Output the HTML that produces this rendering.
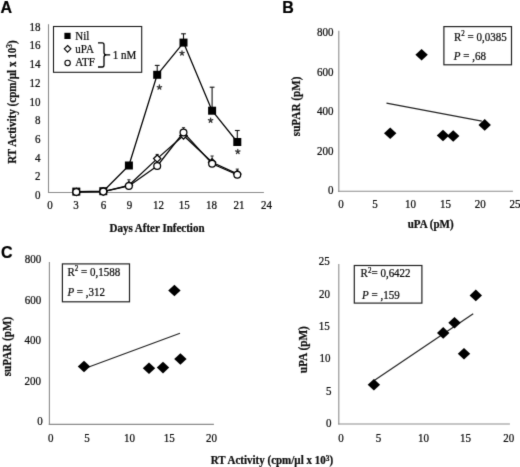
<!DOCTYPE html>
<html><head><meta charset="utf-8"><title>Figure</title>
<style>
html,body{margin:0;padding:0;background:#fff;}
body{width:520px;height:467px;overflow:hidden;font-family:"Liberation Serif", serif;}
svg{display:block;will-change:transform;}
text{stroke:#000;stroke-width:0.22px;}
</style></head>
<body>
<svg width="520" height="467" viewBox="0 0 520 467">
<defs><filter id="soft" color-interpolation-filters="sRGB" x="0" y="0" width="520" height="467" filterUnits="userSpaceOnUse"><feConvolveMatrix order="3" kernelMatrix="0.01134 0.08382 0.01134 0.08382 0.61935 0.08382 0.01134 0.08382 0.01134" edgeMode="duplicate"/></filter></defs>
<g filter="url(#soft)">
<rect x="0" y="0" width="520" height="467" fill="#fff"/>
<text transform="translate(0.60,12.70) scale(1,1.0)" font-size="16" text-anchor="start" font-weight="bold" font-style="normal" font-family='"Liberation Sans", sans-serif' fill="#000" >A</text>
<line x1="48.50" y1="24.20" x2="48.50" y2="193.00" stroke="#8c8c8c" stroke-width="1.1" />
<line x1="48.00" y1="192.50" x2="263.90" y2="192.50" stroke="#8c8c8c" stroke-width="1.1" />
<text transform="translate(40.60,198.90) scale(1,1.08)" font-size="11" text-anchor="end" font-weight="normal" font-style="normal" font-family='"Liberation Serif", serif' fill="#111" >0</text>
<text transform="translate(40.60,180.22) scale(1,1.08)" font-size="11" text-anchor="end" font-weight="normal" font-style="normal" font-family='"Liberation Serif", serif' fill="#111" >2</text>
<text transform="translate(40.60,161.54) scale(1,1.08)" font-size="11" text-anchor="end" font-weight="normal" font-style="normal" font-family='"Liberation Serif", serif' fill="#111" >4</text>
<text transform="translate(40.60,142.86) scale(1,1.08)" font-size="11" text-anchor="end" font-weight="normal" font-style="normal" font-family='"Liberation Serif", serif' fill="#111" >6</text>
<text transform="translate(40.60,124.18) scale(1,1.08)" font-size="11" text-anchor="end" font-weight="normal" font-style="normal" font-family='"Liberation Serif", serif' fill="#111" >8</text>
<text transform="translate(40.60,105.50) scale(1,1.08)" font-size="11" text-anchor="end" font-weight="normal" font-style="normal" font-family='"Liberation Serif", serif' fill="#111" >10</text>
<text transform="translate(40.60,86.82) scale(1,1.08)" font-size="11" text-anchor="end" font-weight="normal" font-style="normal" font-family='"Liberation Serif", serif' fill="#111" >12</text>
<text transform="translate(40.60,68.14) scale(1,1.08)" font-size="11" text-anchor="end" font-weight="normal" font-style="normal" font-family='"Liberation Serif", serif' fill="#111" >14</text>
<text transform="translate(40.60,49.46) scale(1,1.08)" font-size="11" text-anchor="end" font-weight="normal" font-style="normal" font-family='"Liberation Serif", serif' fill="#111" >16</text>
<text transform="translate(40.60,30.78) scale(1,1.08)" font-size="11" text-anchor="end" font-weight="normal" font-style="normal" font-family='"Liberation Serif", serif' fill="#111" >18</text>
<text transform="translate(50.00,208.80) scale(1,1.08)" font-size="11" text-anchor="middle" font-weight="normal" font-style="normal" font-family='"Liberation Serif", serif' fill="#111" >0</text>
<text transform="translate(75.90,208.80) scale(1,1.08)" font-size="11" text-anchor="middle" font-weight="normal" font-style="normal" font-family='"Liberation Serif", serif' fill="#111" >3</text>
<text transform="translate(103.50,208.80) scale(1,1.08)" font-size="11" text-anchor="middle" font-weight="normal" font-style="normal" font-family='"Liberation Serif", serif' fill="#111" >6</text>
<text transform="translate(129.50,208.80) scale(1,1.08)" font-size="11" text-anchor="middle" font-weight="normal" font-style="normal" font-family='"Liberation Serif", serif' fill="#111" >9</text>
<text transform="translate(158.50,208.80) scale(1,1.08)" font-size="11" text-anchor="middle" font-weight="normal" font-style="normal" font-family='"Liberation Serif", serif' fill="#111" >12</text>
<text transform="translate(184.30,208.80) scale(1,1.08)" font-size="11" text-anchor="middle" font-weight="normal" font-style="normal" font-family='"Liberation Serif", serif' fill="#111" >15</text>
<text transform="translate(211.60,208.80) scale(1,1.08)" font-size="11" text-anchor="middle" font-weight="normal" font-style="normal" font-family='"Liberation Serif", serif' fill="#111" >18</text>
<text transform="translate(238.90,208.80) scale(1,1.08)" font-size="11" text-anchor="middle" font-weight="normal" font-style="normal" font-family='"Liberation Serif", serif' fill="#111" >21</text>
<text transform="translate(266.50,208.80) scale(1,1.08)" font-size="11" text-anchor="middle" font-weight="normal" font-style="normal" font-family='"Liberation Serif", serif' fill="#111" >24</text>
<text transform="translate(157.00,232.30) scale(1,1.08)" font-size="11" text-anchor="middle" font-weight="bold" font-style="normal" font-family='"Liberation Serif", serif' fill="#111" >Days After Infection</text>
<text transform="translate(16.0,102.0) rotate(-90) scale(1,1.08)" font-size="11.1" text-anchor="middle" font-weight="bold" font-family='"Liberation Serif", serif' fill="#111">RT Activity (cpm/µl x 10<tspan dy="-3.5" font-size="7.5">3</tspan><tspan dy="3.5">)</tspan></text>
<polyline points="76.30,191.60 103.30,191.20 128.90,165.50 157.20,74.80 183.50,42.60 212.10,110.70 237.30,142.00" fill="none" stroke="#000" stroke-width="1.25" stroke-linejoin="round" shape-rendering="auto"/>
<line x1="157.20" y1="65.40" x2="157.20" y2="74.80" stroke="#111" stroke-width="1.1" />
<line x1="154.80" y1="65.40" x2="159.60" y2="65.40" stroke="#111" stroke-width="1.1" />
<line x1="183.50" y1="33.80" x2="183.50" y2="42.60" stroke="#111" stroke-width="1.1" />
<line x1="181.10" y1="33.80" x2="185.90" y2="33.80" stroke="#111" stroke-width="1.1" />
<line x1="212.10" y1="87.20" x2="212.10" y2="110.70" stroke="#111" stroke-width="1.1" />
<line x1="209.70" y1="87.20" x2="214.50" y2="87.20" stroke="#111" stroke-width="1.1" />
<line x1="237.30" y1="130.50" x2="237.30" y2="142.00" stroke="#111" stroke-width="1.1" />
<line x1="234.90" y1="130.50" x2="239.70" y2="130.50" stroke="#111" stroke-width="1.1" />
<rect x="72.30" y="187.60" width="8" height="8" fill="#000"/>
<rect x="99.30" y="187.20" width="8" height="8" fill="#000"/>
<rect x="124.90" y="161.50" width="8" height="8" fill="#000"/>
<rect x="153.20" y="70.80" width="8" height="8" fill="#000"/>
<rect x="179.50" y="38.60" width="8" height="8" fill="#000"/>
<rect x="208.10" y="106.70" width="8" height="8" fill="#000"/>
<rect x="233.30" y="138.00" width="8" height="8" fill="#000"/>
<path d="M159.40,87.30 L159.40,85.00 M159.40,87.30 L161.59,86.59 M159.40,87.30 L160.75,89.16 M159.40,87.30 L158.05,89.16 M159.40,87.30 L157.21,86.59 " stroke="#333" stroke-width="1.3" stroke-linecap="round" fill="none"/>
<path d="M182.00,53.20 L182.00,50.90 M182.00,53.20 L184.19,52.49 M182.00,53.20 L183.35,55.06 M182.00,53.20 L180.65,55.06 M182.00,53.20 L179.81,52.49 " stroke="#333" stroke-width="1.3" stroke-linecap="round" fill="none"/>
<path d="M210.60,120.40 L210.60,118.10 M210.60,120.40 L212.79,119.69 M210.60,120.40 L211.95,122.26 M210.60,120.40 L209.25,122.26 M210.60,120.40 L208.41,119.69 " stroke="#333" stroke-width="1.3" stroke-linecap="round" fill="none"/>
<path d="M237.80,151.70 L237.80,149.40 M237.80,151.70 L239.99,150.99 M237.80,151.70 L239.15,153.56 M237.80,151.70 L236.45,153.56 M237.80,151.70 L235.61,150.99 " stroke="#333" stroke-width="1.3" stroke-linecap="round" fill="none"/>
<polyline points="76.30,191.90 103.30,191.60 128.90,185.30 157.20,158.60 183.50,135.50 212.10,162.30 237.30,173.90" fill="none" stroke="#000" stroke-width="1.25" stroke-linejoin="round" shape-rendering="auto"/>
<polyline points="76.30,191.90 103.30,191.60 128.90,185.90 157.20,166.00 183.50,132.40 212.10,163.70 237.30,174.80" fill="none" stroke="#000" stroke-width="1.25" stroke-linejoin="round" shape-rendering="auto"/>
<line x1="127.30" y1="179.80" x2="130.50" y2="179.80" stroke="#222" stroke-width="1.0" />
<line x1="128.90" y1="179.80" x2="128.90" y2="182.80" stroke="#222" stroke-width="1.0" />
<line x1="155.60" y1="154.40" x2="158.80" y2="154.40" stroke="#222" stroke-width="1.0" />
<line x1="157.20" y1="154.40" x2="157.20" y2="157.40" stroke="#222" stroke-width="1.0" />
<line x1="181.90" y1="127.70" x2="185.10" y2="127.70" stroke="#222" stroke-width="1.0" />
<line x1="183.50" y1="127.70" x2="183.50" y2="130.70" stroke="#222" stroke-width="1.0" />
<line x1="210.50" y1="156.00" x2="213.70" y2="156.00" stroke="#222" stroke-width="1.0" />
<line x1="212.10" y1="156.00" x2="212.10" y2="159.00" stroke="#222" stroke-width="1.0" />
<line x1="235.70" y1="169.10" x2="238.90" y2="169.10" stroke="#222" stroke-width="1.0" />
<line x1="237.30" y1="169.10" x2="237.30" y2="172.10" stroke="#222" stroke-width="1.0" />
<polygon points="76.30,188.30 79.90,191.90 76.30,195.50 72.70,191.90" fill="#fff" stroke="#000" stroke-width="1.3"/>
<polygon points="103.30,188.00 106.90,191.60 103.30,195.20 99.70,191.60" fill="#fff" stroke="#000" stroke-width="1.3"/>
<polygon points="128.90,181.70 132.50,185.30 128.90,188.90 125.30,185.30" fill="#fff" stroke="#000" stroke-width="1.3"/>
<polygon points="157.20,155.00 160.80,158.60 157.20,162.20 153.60,158.60" fill="#fff" stroke="#000" stroke-width="1.3"/>
<polygon points="183.50,131.90 187.10,135.50 183.50,139.10 179.90,135.50" fill="#fff" stroke="#000" stroke-width="1.3"/>
<polygon points="212.10,158.70 215.70,162.30 212.10,165.90 208.50,162.30" fill="#fff" stroke="#000" stroke-width="1.3"/>
<polygon points="237.30,170.30 240.90,173.90 237.30,177.50 233.70,173.90" fill="#fff" stroke="#000" stroke-width="1.3"/>
<circle cx="76.30" cy="191.90" r="3.4" fill="#fff" stroke="#000" stroke-width="1.25"/>
<circle cx="103.30" cy="191.60" r="3.4" fill="#fff" stroke="#000" stroke-width="1.25"/>
<circle cx="128.90" cy="185.90" r="3.4" fill="#fff" stroke="#000" stroke-width="1.25"/>
<circle cx="157.20" cy="166.00" r="3.4" fill="#fff" stroke="#000" stroke-width="1.25"/>
<circle cx="183.50" cy="132.40" r="3.4" fill="#fff" stroke="#000" stroke-width="1.25"/>
<circle cx="212.10" cy="163.70" r="3.4" fill="#fff" stroke="#000" stroke-width="1.25"/>
<circle cx="237.30" cy="174.80" r="3.4" fill="#fff" stroke="#000" stroke-width="1.25"/>
<rect x="53.50" y="26.50" width="88.20" height="45.80" stroke="#1a1a1a" stroke-width="1.1" fill="#fff"/>
<rect x="64.40" y="32.80" width="6.2" height="6.2" fill="#000"/>
<polygon points="67.60,45.50 70.90,48.80 67.60,52.10 64.30,48.80" fill="#fff" stroke="#000" stroke-width="1.1"/>
<circle cx="67.60" cy="63.00" r="2.7" fill="#fff" stroke="#000" stroke-width="1.1"/>
<text transform="translate(75.30,39.50) scale(1,1.08)" font-size="11" text-anchor="start" font-weight="normal" font-style="normal" font-family='"Liberation Serif", serif' fill="#111" >Nil</text>
<text transform="translate(75.30,52.50) scale(1,1.08)" font-size="11" text-anchor="start" font-weight="normal" font-style="normal" font-family='"Liberation Serif", serif' fill="#111" >uPA</text>
<text transform="translate(75.30,66.30) scale(1,1.08)" font-size="11" text-anchor="start" font-weight="normal" font-style="normal" font-family='"Liberation Serif", serif' fill="#111" >ATF</text>
<path d="M98,42.8 L102.3,42.8 Q104,42.8 104,44.8 L104,52.6 Q104,54.9 106.5,54.9 L110.2,54.9 M106.5,54.9 Q104,54.9 104,57.2 L104,65 Q104,67 102.3,67 L98,67" fill="none" stroke="#000" stroke-width="1.3"/>
<text transform="translate(112.80,59.00) scale(1,1.08)" font-size="11" text-anchor="start" font-weight="normal" font-style="normal" font-family='"Liberation Serif", serif' fill="#111" >1 nM</text>
<text transform="translate(282.30,12.60) scale(1,1.0)" font-size="16" text-anchor="start" font-weight="bold" font-style="normal" font-family='"Liberation Sans", sans-serif' fill="#000" >B</text>
<line x1="338.80" y1="30.80" x2="338.80" y2="191.90" stroke="#8c8c8c" stroke-width="1.1" />
<line x1="338.20" y1="191.30" x2="512.90" y2="191.30" stroke="#8c8c8c" stroke-width="1.1" />
<text transform="translate(333.50,194.40) scale(1,1.08)" font-size="11" text-anchor="end" font-weight="normal" font-style="normal" font-family='"Liberation Serif", serif' fill="#111" >0</text>
<text transform="translate(333.50,154.60) scale(1,1.08)" font-size="11" text-anchor="end" font-weight="normal" font-style="normal" font-family='"Liberation Serif", serif' fill="#111" >200</text>
<text transform="translate(333.50,115.10) scale(1,1.08)" font-size="11" text-anchor="end" font-weight="normal" font-style="normal" font-family='"Liberation Serif", serif' fill="#111" >400</text>
<text transform="translate(333.50,75.70) scale(1,1.08)" font-size="11" text-anchor="end" font-weight="normal" font-style="normal" font-family='"Liberation Serif", serif' fill="#111" >600</text>
<text transform="translate(333.50,36.10) scale(1,1.08)" font-size="11" text-anchor="end" font-weight="normal" font-style="normal" font-family='"Liberation Serif", serif' fill="#111" >800</text>
<text transform="translate(341.10,208.20) scale(1,1.08)" font-size="11" text-anchor="middle" font-weight="normal" font-style="normal" font-family='"Liberation Serif", serif' fill="#111" >0</text>
<text transform="translate(374.90,208.20) scale(1,1.08)" font-size="11" text-anchor="middle" font-weight="normal" font-style="normal" font-family='"Liberation Serif", serif' fill="#111" >5</text>
<text transform="translate(410.40,208.20) scale(1,1.08)" font-size="11" text-anchor="middle" font-weight="normal" font-style="normal" font-family='"Liberation Serif", serif' fill="#111" >10</text>
<text transform="translate(445.50,208.20) scale(1,1.08)" font-size="11" text-anchor="middle" font-weight="normal" font-style="normal" font-family='"Liberation Serif", serif' fill="#111" >15</text>
<text transform="translate(480.30,208.20) scale(1,1.08)" font-size="11" text-anchor="middle" font-weight="normal" font-style="normal" font-family='"Liberation Serif", serif' fill="#111" >20</text>
<text transform="translate(515.00,208.20) scale(1,1.08)" font-size="11" text-anchor="middle" font-weight="normal" font-style="normal" font-family='"Liberation Serif", serif' fill="#111" >25</text>
<text transform="translate(430.70,227.70) scale(1,1.08)" font-size="11" text-anchor="middle" font-weight="bold" font-style="normal" font-family='"Liberation Serif", serif' fill="#111" >uPA (pM)</text>
<text transform="translate(299.9,106.4) rotate(-90) scale(1,1.08)" font-size="11.15" text-anchor="middle" font-weight="bold" font-family='"Liberation Serif", serif' fill="#111">suPAR (pM)</text>
<rect x="443.90" y="26.60" width="67.60" height="38.20" stroke="#222" stroke-width="1.2" fill="#fff"/>
<text transform="translate(454.00,40.80) scale(1,1.08)" font-size="11" text-anchor="start" font-weight="normal" font-style="normal" font-family='"Liberation Serif", serif' fill="#111" >R<tspan dy="-4" font-size="7">2</tspan><tspan dy="4"> = 0,0385</tspan></text>
<text transform="translate(453.80,59.70) scale(1,1.08)" font-size="11" text-anchor="start" font-weight="normal" font-style="normal" font-family='"Liberation Serif", serif' fill="#111" ><tspan font-style="italic">P</tspan> = ,68</text>
<line x1="386.50" y1="103.10" x2="481.80" y2="121.20" stroke="#222" stroke-width="1.2" />
<polygon points="421.60,48.90 427.80,54.70 421.60,60.50 415.40,54.70" fill="#000" stroke="none" stroke-width="0"/>
<polygon points="390.20,127.40 396.40,133.20 390.20,139.00 384.00,133.20" fill="#000" stroke="none" stroke-width="0"/>
<polygon points="443.00,129.70 449.20,135.50 443.00,141.30 436.80,135.50" fill="#000" stroke="none" stroke-width="0"/>
<polygon points="453.20,130.20 459.40,136.00 453.20,141.80 447.00,136.00" fill="#000" stroke="none" stroke-width="0"/>
<polygon points="484.70,119.10 490.90,124.90 484.70,130.70 478.50,124.90" fill="#000" stroke="none" stroke-width="0"/>
<text transform="translate(0.90,257.90) scale(1,1.0)" font-size="16" text-anchor="start" font-weight="bold" font-style="normal" font-family='"Liberation Sans", sans-serif' fill="#000" >C</text>
<line x1="49.40" y1="262.10" x2="49.40" y2="425.00" stroke="#8c8c8c" stroke-width="1.1" />
<line x1="48.80" y1="424.40" x2="213.90" y2="424.40" stroke="#8c8c8c" stroke-width="1.1" />
<text transform="translate(42.80,425.40) scale(1,1.08)" font-size="11" text-anchor="end" font-weight="normal" font-style="normal" font-family='"Liberation Serif", serif' fill="#111" >0</text>
<text transform="translate(41.00,384.80) scale(1,1.08)" font-size="11" text-anchor="end" font-weight="normal" font-style="normal" font-family='"Liberation Serif", serif' fill="#111" >200</text>
<text transform="translate(41.00,344.20) scale(1,1.08)" font-size="11" text-anchor="end" font-weight="normal" font-style="normal" font-family='"Liberation Serif", serif' fill="#111" >400</text>
<text transform="translate(41.20,303.60) scale(1,1.08)" font-size="11" text-anchor="end" font-weight="normal" font-style="normal" font-family='"Liberation Serif", serif' fill="#111" >600</text>
<text transform="translate(41.20,262.90) scale(1,1.08)" font-size="11" text-anchor="end" font-weight="normal" font-style="normal" font-family='"Liberation Serif", serif' fill="#111" >800</text>
<text transform="translate(50.80,442.00) scale(1,1.08)" font-size="11" text-anchor="middle" font-weight="normal" font-style="normal" font-family='"Liberation Serif", serif' fill="#111" >0</text>
<text transform="translate(86.90,442.00) scale(1,1.08)" font-size="11" text-anchor="middle" font-weight="normal" font-style="normal" font-family='"Liberation Serif", serif' fill="#111" >5</text>
<text transform="translate(129.50,442.00) scale(1,1.08)" font-size="11" text-anchor="middle" font-weight="normal" font-style="normal" font-family='"Liberation Serif", serif' fill="#111" >10</text>
<text transform="translate(169.30,442.00) scale(1,1.08)" font-size="11" text-anchor="middle" font-weight="normal" font-style="normal" font-family='"Liberation Serif", serif' fill="#111" >15</text>
<text transform="translate(211.60,442.00) scale(1,1.08)" font-size="11" text-anchor="middle" font-weight="normal" font-style="normal" font-family='"Liberation Serif", serif' fill="#111" >20</text>
<text transform="translate(10.9,346.6) rotate(-90) scale(1,1.08)" font-size="11.15" text-anchor="middle" font-weight="bold" font-family='"Liberation Serif", serif' fill="#111">suPAR (pM)</text>
<rect x="62.40" y="263.90" width="67.10" height="37.90" stroke="#222" stroke-width="1.2" fill="#fff"/>
<text transform="translate(67.40,275.80) scale(1,1.08)" font-size="11" text-anchor="start" font-weight="normal" font-style="normal" font-family='"Liberation Serif", serif' fill="#111" >R<tspan dy="-4" font-size="7">2</tspan><tspan dy="4"> = 0,1588</tspan></text>
<text transform="translate(67.40,295.60) scale(1,1.08)" font-size="11" text-anchor="start" font-weight="normal" font-style="normal" font-family='"Liberation Serif", serif' fill="#111" ><tspan font-style="italic">P</tspan> = ,312</text>
<line x1="84.00" y1="368.80" x2="180.00" y2="333.20" stroke="#222" stroke-width="1.2" />
<polygon points="84.00,360.70 90.20,366.50 84.00,372.30 77.80,366.50" fill="#000" stroke="none" stroke-width="0"/>
<polygon points="149.00,362.40 155.20,368.20 149.00,374.00 142.80,368.20" fill="#000" stroke="none" stroke-width="0"/>
<polygon points="163.00,361.80 169.20,367.60 163.00,373.40 156.80,367.60" fill="#000" stroke="none" stroke-width="0"/>
<polygon points="180.40,353.20 186.60,359.00 180.40,364.80 174.20,359.00" fill="#000" stroke="none" stroke-width="0"/>
<polygon points="174.40,284.70 180.60,290.50 174.40,296.30 168.20,290.50" fill="#000" stroke="none" stroke-width="0"/>
<line x1="338.80" y1="263.90" x2="338.80" y2="424.60" stroke="#8c8c8c" stroke-width="1.1" />
<line x1="338.20" y1="424.00" x2="509.90" y2="424.00" stroke="#8c8c8c" stroke-width="1.1" />
<text transform="translate(331.50,426.70) scale(1,1.08)" font-size="11" text-anchor="end" font-weight="normal" font-style="normal" font-family='"Liberation Serif", serif' fill="#111" >0</text>
<text transform="translate(331.50,394.90) scale(1,1.08)" font-size="11" text-anchor="end" font-weight="normal" font-style="normal" font-family='"Liberation Serif", serif' fill="#111" >5</text>
<text transform="translate(330.40,362.00) scale(1,1.08)" font-size="11" text-anchor="end" font-weight="normal" font-style="normal" font-family='"Liberation Serif", serif' fill="#111" >10</text>
<text transform="translate(329.80,329.60) scale(1,1.08)" font-size="11" text-anchor="end" font-weight="normal" font-style="normal" font-family='"Liberation Serif", serif' fill="#111" >15</text>
<text transform="translate(330.00,297.60) scale(1,1.08)" font-size="11" text-anchor="end" font-weight="normal" font-style="normal" font-family='"Liberation Serif", serif' fill="#111" >20</text>
<text transform="translate(329.80,265.40) scale(1,1.08)" font-size="11" text-anchor="end" font-weight="normal" font-style="normal" font-family='"Liberation Serif", serif' fill="#111" >25</text>
<text transform="translate(341.10,441.80) scale(1,1.08)" font-size="11" text-anchor="middle" font-weight="normal" font-style="normal" font-family='"Liberation Serif", serif' fill="#111" >0</text>
<text transform="translate(378.60,441.80) scale(1,1.08)" font-size="11" text-anchor="middle" font-weight="normal" font-style="normal" font-family='"Liberation Serif", serif' fill="#111" >5</text>
<text transform="translate(423.40,441.80) scale(1,1.08)" font-size="11" text-anchor="middle" font-weight="normal" font-style="normal" font-family='"Liberation Serif", serif' fill="#111" >10</text>
<text transform="translate(465.60,441.80) scale(1,1.08)" font-size="11" text-anchor="middle" font-weight="normal" font-style="normal" font-family='"Liberation Serif", serif' fill="#111" >15</text>
<text transform="translate(508.80,441.80) scale(1,1.08)" font-size="11" text-anchor="middle" font-weight="normal" font-style="normal" font-family='"Liberation Serif", serif' fill="#111" >20</text>
<text transform="translate(307.3,349.7) rotate(-90) scale(1,1.08)" font-size="11.3" text-anchor="middle" font-weight="bold" font-family='"Liberation Serif", serif' fill="#111">uPA (pM)</text>
<rect x="354.30" y="265.50" width="67.60" height="37.60" stroke="#222" stroke-width="1.2" fill="#fff"/>
<text transform="translate(360.60,277.20) scale(1,1.08)" font-size="11" text-anchor="start" font-weight="normal" font-style="normal" font-family='"Liberation Serif", serif' fill="#111" >R<tspan dy="-4" font-size="7">2</tspan><tspan dy="4">= 0,6422</tspan></text>
<text transform="translate(362.00,298.60) scale(1,1.08)" font-size="11" text-anchor="start" font-weight="normal" font-style="normal" font-family='"Liberation Serif", serif' fill="#111" ><tspan font-style="italic">P</tspan> = ,159</text>
<line x1="374.20" y1="380.50" x2="473.20" y2="313.70" stroke="#222" stroke-width="1.2" />
<polygon points="373.90,379.00 380.10,384.80 373.90,390.60 367.70,384.80" fill="#000" stroke="none" stroke-width="0"/>
<polygon points="443.20,327.10 449.40,332.90 443.20,338.70 437.00,332.90" fill="#000" stroke="none" stroke-width="0"/>
<polygon points="454.50,316.90 460.70,322.70 454.50,328.50 448.30,322.70" fill="#000" stroke="none" stroke-width="0"/>
<polygon points="464.00,348.00 470.20,353.80 464.00,359.60 457.80,353.80" fill="#000" stroke="none" stroke-width="0"/>
<polygon points="475.80,289.60 482.00,295.40 475.80,301.20 469.60,295.40" fill="#000" stroke="none" stroke-width="0"/>
<text transform="translate(271.9,464.4) scale(1,1.08)" font-size="11" text-anchor="middle" font-weight="bold" font-family='"Liberation Serif", serif' fill="#111">RT Activity (cpm/µl x 10<tspan dy="-3.5" font-size="7.5">3</tspan><tspan dy="3.5">)</tspan></text>
</g>
</svg>
</body></html>
